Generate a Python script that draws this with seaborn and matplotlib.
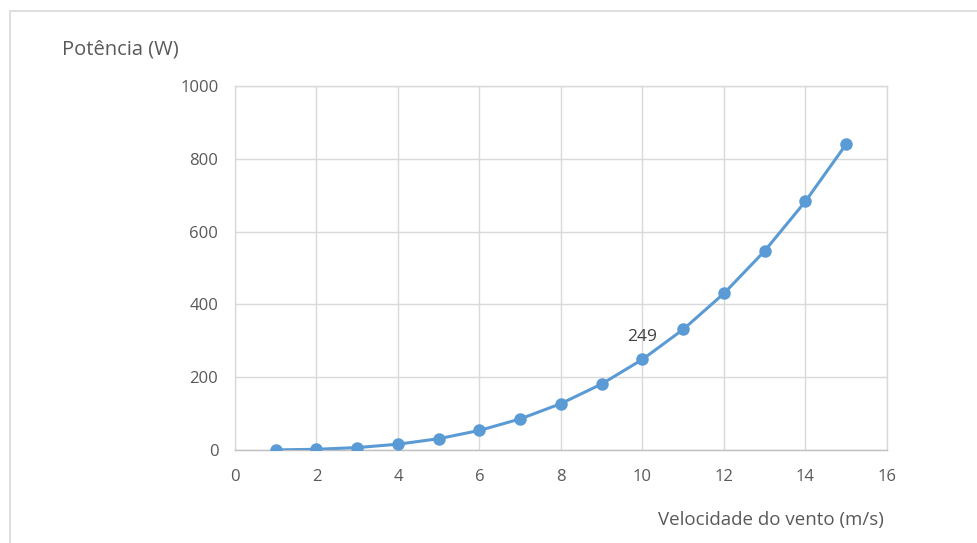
import matplotlib
matplotlib.use("Agg")
import matplotlib.pyplot as plt
import seaborn as sns
import pandas as pd
from matplotlib.lines import Line2D

# Wind speed (m/s) and turbine power (W)
velocidade = [1, 2, 3, 4, 5, 6, 7, 8, 9, 10, 11, 12, 13, 14, 15]
potencia = [0.25, 2.0, 6.7, 15.9, 31.1, 53.8, 85.4, 127.5, 181.5, 249, 331.4, 430.3, 547.1, 683.3, 840.4]
x_ticks = [0, 2, 4, 6, 8, 10, 12, 14, 16]
y_ticks = [0, 200, 400, 600, 800, 1000]
destaque = 10  # speed whose power value is labelled

sns.set_theme(style="white")
plt.rcParams["font.family"] = ["Open Sans", "DejaVu Sans"]

df = pd.DataFrame({"v": velocidade, "p": potencia})

fig = plt.figure(figsize=(9.78, 5.43), dpi=100)
ax = fig.add_axes([235 / 978, 93 / 543, 652 / 978, 364 / 543])

grid_c = "#d9d9d9"
text_c = "#595959"
line_c = "#5b9bd5"

sns.lineplot(data=df, x="v", y="p", ax=ax, color=line_c, linewidth=2.2,
             marker="o", markersize=9, markeredgewidth=0, zorder=3)

ax.set_xlim(0, 16)
ax.set_ylim(0, 1000)
ax.set_xticks(x_ticks)
ax.set_yticks(y_ticks)
ax.grid(True, color=grid_c, linewidth=1.0)
ax.set_axisbelow(True)
for s in ax.spines.values():
    s.set_color(grid_c)
    s.set_linewidth(1.0)
ax.spines["bottom"].set_color("#bfbfbf")
ax.tick_params(axis="both", length=0, labelsize=12, labelcolor=text_c)
ax.tick_params(axis="x", pad=14)
ax.tick_params(axis="y", pad=12)
ax.set_xlabel("")
ax.set_ylabel("")

# value label for the highlighted point
i = velocidade.index(destaque)
ax.annotate(f"{potencia[i]:.0f}", (velocidade[i], potencia[i]),
            xytext=(0, 10), textcoords="offset points", ha="center", va="bottom",
            fontsize=12.5, color="#404040")

fig.text(62 / 978, 1 - 50 / 543, "Potência (W)", ha="left", va="center",
         fontsize=14.5, color=text_c)
fig.text(884 / 978, 1 - 520 / 543, "Velocidade do vento (m/s)", ha="right", va="center",
         fontsize=13.5, color=text_c)

# chart frame
fx0, fy0 = 9.5 / 978, 1 - 10.5 / 543
fig.add_artist(Line2D([fx0, 1.0], [fy0, fy0], transform=fig.transFigure, color=grid_c, linewidth=1.2))
fig.add_artist(Line2D([fx0, fx0], [fy0, 0.0], transform=fig.transFigure, color=grid_c, linewidth=1.2))

fig.savefig("out.png", dpi=100, facecolor="white")
